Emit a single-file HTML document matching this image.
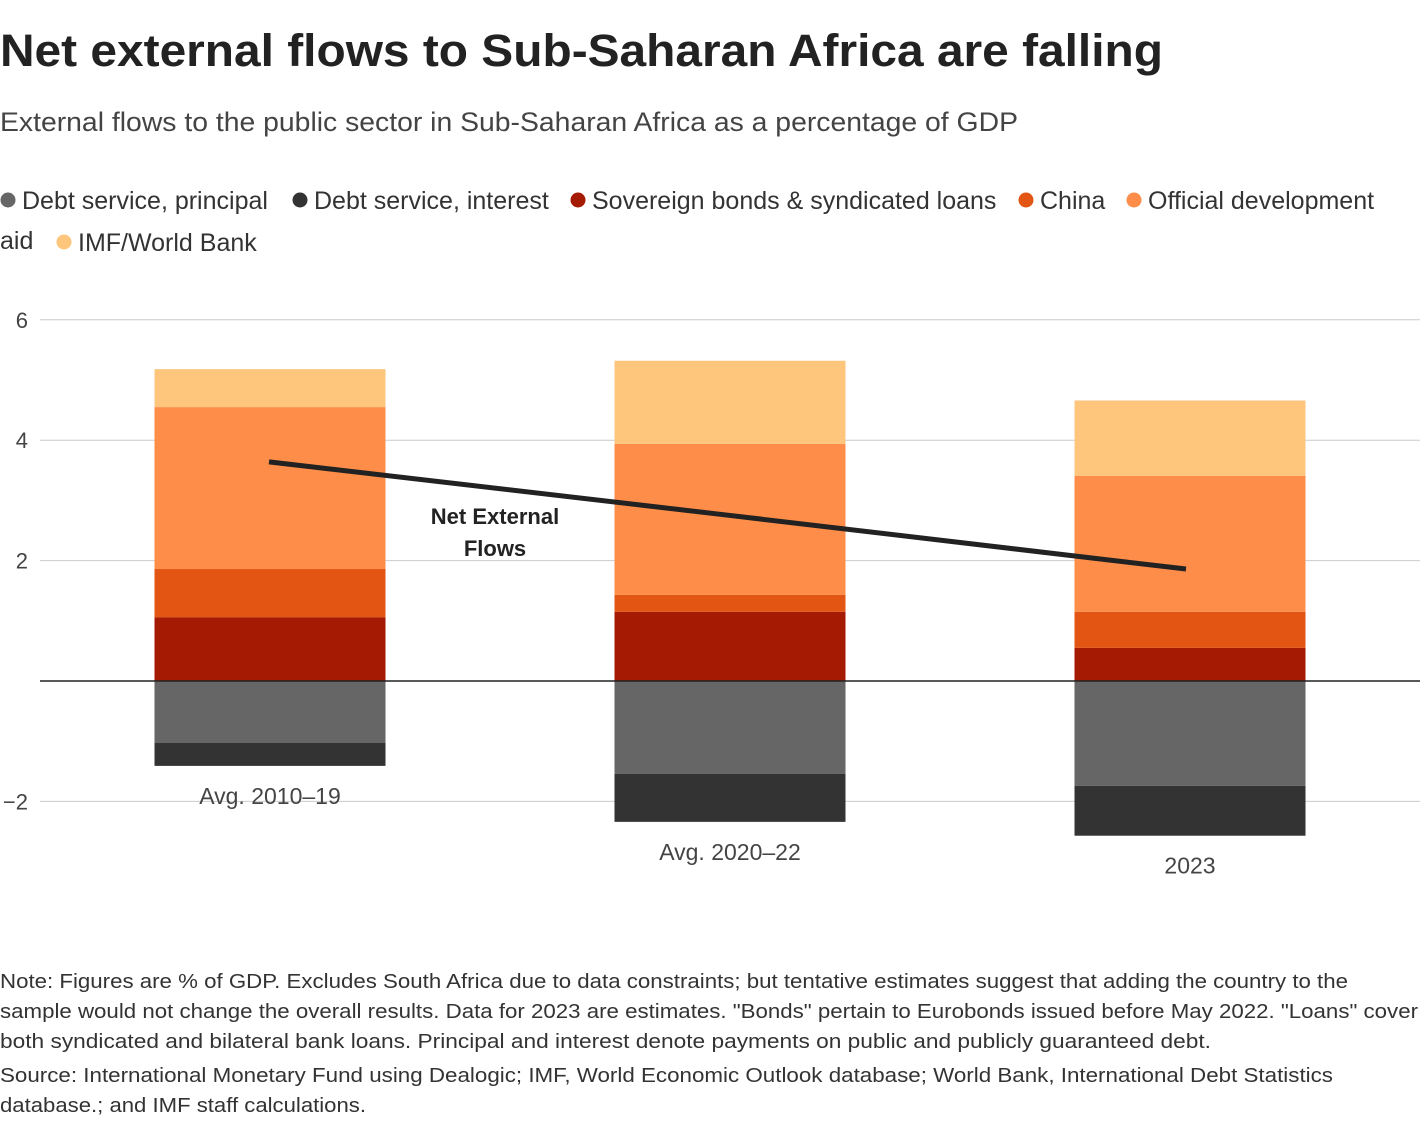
<!DOCTYPE html>
<html><head><meta charset="utf-8"><style>
html,body{margin:0;padding:0;background:#fff;width:1420px;height:1124px;overflow:hidden}
svg text{font-family:"Liberation Sans",sans-serif}
</style></head><body>
<svg id="chart" width="1420" height="1124" xmlns="http://www.w3.org/2000/svg">
<text x="0" y="66" font-size="45" font-weight="bold" fill="#222" textLength="1163" lengthAdjust="spacingAndGlyphs">Net external flows to Sub-Saharan Africa are falling</text>
<text x="0" y="131" font-size="27" fill="#444" textLength="1018" lengthAdjust="spacingAndGlyphs">External flows to the public sector in Sub-Saharan Africa as a percentage of GDP</text>
<g id="legend"></g>
<g id="grid"></g>
<g id="bars"></g>
<g id="line"></g>
<text x="495" y="524" font-size="22" font-weight="bold" fill="#222" text-anchor="middle">Net External</text>
<text x="495" y="556" font-size="22" font-weight="bold" fill="#222" text-anchor="middle">Flows</text>
<g font-size="20" fill="#333">
<text x="0" y="988" textLength="1348" lengthAdjust="spacingAndGlyphs">Note: Figures are % of GDP. Excludes South Africa due to data constraints; but tentative estimates suggest that adding the country to the</text>
<text x="0" y="1018" textLength="1418" lengthAdjust="spacingAndGlyphs">sample would not change the overall results. Data for 2023 are estimates. "Bonds" pertain to Eurobonds issued before May 2022. "Loans" cover</text>
<text x="0" y="1048" textLength="1211" lengthAdjust="spacingAndGlyphs">both syndicated and bilateral bank loans. Principal and interest denote payments on public and publicly guaranteed debt.</text>
<text x="0" y="1082" textLength="1333" lengthAdjust="spacingAndGlyphs">Source: International Monetary Fund using Dealogic; IMF, World Economic Outlook database; World Bank, International Debt Statistics</text>
<text x="0" y="1112" textLength="366" lengthAdjust="spacingAndGlyphs">database.; and IMF staff calculations.</text>
</g>
</svg>
<script>
const categories = ["Avg. 2010–19","Avg. 2020–22","2023"];
const principal = [-1.03,-1.54,-1.74];
const interest = [-0.38,-0.8,-0.83];
const sovereign = [1.06,1.15,0.55];
const china = [0.8,0.28,0.6];
const oda = [2.69,2.51,2.26];
const imfwb = [0.63,1.38,1.25];
const netFlows = [3.64,2.75,1.86];
const yTicks = [-2,2,4,6];
const tickLabels = ["−2","2","4","6"];

const NS="http://www.w3.org/2000/svg";
function mk(tag,attrs,parent){const e=document.createElementNS(NS,tag);for(const k in attrs)e.setAttribute(k,attrs[k]);parent.appendChild(e);return e;}
const y=v=>681-v*60.2;
const band=460, x0=40;
const xc=i=>x0+band*i+band/2;
const bw=231;

const grid=document.getElementById('grid');
yTicks.forEach((t,i)=>{
  const l=mk('line',{x1:40,x2:1420,y1:y(t),y2:y(t),stroke:'#ccc','stroke-width':1},grid);
  
  
  const tx=mk('text',{x:28,y:y(t)+8,'font-size':22,fill:'#444','text-anchor':'end'},grid);
  tx.textContent=tickLabels[i];
  
  
});

const bars=document.getElementById('bars');
const pos=[[sovereign,'#a51a02','sovereign'],[china,'#e35512','china'],[oda,'#fd8d48','oda'],[imfwb,'#fec57c','imf-world-bank']];
const neg=[[principal,'#666666','principal'],[interest,'#333333','interest']];
categories.forEach((c,i)=>{
  let acc=0;
  pos.forEach(([arr,col,nm])=>{
    const r=mk('rect',{x:xc(i)-bw/2,width:bw,y:y(acc+arr[i]),height:y(acc)-y(acc+arr[i]),fill:col},bars);
    
    
    acc+=arr[i];
  });
  let nacc=0;
  neg.forEach(([arr,col,nm])=>{
    const r=mk('rect',{x:xc(i)-bw/2,width:bw,y:y(nacc),height:y(nacc+arr[i])-y(nacc),fill:col},bars);
    
    
    nacc+=arr[i];
  });
  const t=mk('text',{x:xc(i),y:y(nacc)+38,'font-size':23,fill:'#444','text-anchor':'middle'},bars);
  t.textContent=c;
  
  
});
const zl=mk('line',{x1:40,x2:1420,y1:y(0),y2:y(0),stroke:'#222','stroke-width':1.5},bars);



const lineG=document.getElementById('line');
const pts=netFlows.map((v,i)=>xc(i)+(i==0?-1:i==2?-4:0)+','+y(v)).join(' ');
const pl=mk('polyline',{points:pts,fill:'none',stroke:'#222','stroke-width':5},lineG);



const legend=document.getElementById('legend');
const items=[['Debt service, principal','#666666',0,206],['Debt service, interest','#333333',292,206],['Sovereign bonds & syndicated loans','#a51a02',570,206],['China','#e35512',1018,206],['Official development','#fd8d48',1126,206],['IMF/World Bank','#fec57c',56,248]];
const aid=mk('text',{x:0,y:249,'font-size':25,fill:'#333'},legend);
aid.textContent='aid';


items.forEach(([lab,col,x,yy])=>{
  const c=mk('circle',{cx:x+8,cy:yy-6,r:7.5,fill:col},legend);
  
  
  const t=mk('text',{x:x+22,y:yy+3,'font-size':25,fill:'#333'},legend);
  t.textContent=lab;
  
  
});
</script>
</body></html>
